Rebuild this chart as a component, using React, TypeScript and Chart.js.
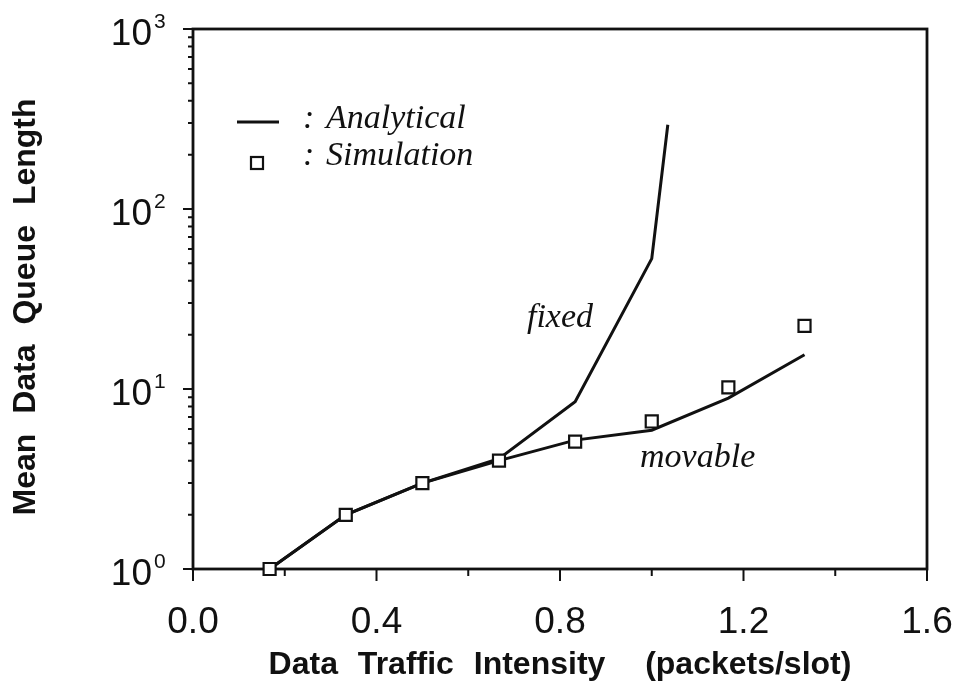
import { useEffect, useRef } from 'react';
import { Chart, registerables } from 'chart.js';

Chart.register(...registerables);

// ---- data ----
const simX = [0.167, 0.333, 0.5, 0.667, 0.833, 1.0, 1.167, 1.333];
const simY = [1.0, 2.0, 3.0, 4.0, 5.1, 6.6, 10.2, 22.4];
const movableX = [0.167, 0.333, 0.5, 0.667, 0.833, 1.0, 1.167, 1.333];
const movableY = [1.0, 2.0, 3.0, 4.0, 5.2, 5.9, 8.9, 15.5];
const fixedX = [0.167, 0.333, 0.5, 0.667, 0.833, 1.0, 1.035];
const fixedY = [1.0, 2.0, 3.0, 4.1, 8.5, 53, 294];

const xMajorTicks = [0, 0.4, 0.8, 1.2, 1.6];
const xMinorTicks = [0.2, 0.6, 1.0, 1.4];
const xTickLabels = ['0.0', '0.4', '0.8', '1.2', '1.6'];
const yDecades = [0, 1, 2, 3];
const yTickBase = '10';
const xTitle = 'Data Traffic Intensity  (packets/slot)';
const yTitle = 'Mean Data Queue Length';
const legendLabels = ['Analytical', 'Simulation'];
const curveLabels = ['fixed', 'movable'];
const curveLabelX = [0.8, 1.1];
const curveLabelY = [22, 3.7];

const INK = '#111';
const SANS = '"Liberation Sans", Arial, Helvetica, sans-serif';
const SCRIPT = '"Liberation Serif", "Times New Roman", serif';

const decor = {
  id: 'decor',
  beforeDatasetsDraw(chart: any) {
    const { ctx, chartArea: a } = chart;
    const xs = chart.scales.x;
    const ys = chart.scales.y;
    ctx.save();
    ctx.strokeStyle = INK;
    ctx.lineWidth = 2.8;
    ctx.strokeRect(a.left, a.top, a.right - a.left, a.bottom - a.top);
    ctx.lineWidth = 2;
    ctx.beginPath();
    xMajorTicks.forEach((v) => {
      const px = xs.getPixelForValue(v);
      ctx.moveTo(px, a.bottom);
      ctx.lineTo(px, a.bottom + 12);
    });
    xMinorTicks.forEach((v) => {
      const px = xs.getPixelForValue(v);
      ctx.moveTo(px, a.bottom);
      ctx.lineTo(px, a.bottom + 7);
    });
    yDecades.forEach((d) => {
      const py = ys.getPixelForValue(Math.pow(10, d));
      ctx.moveTo(a.left - 10, py);
      ctx.lineTo(a.left, py);
      if (d < 3) {
        for (let k = 2; k <= 9; k++) {
          const p = ys.getPixelForValue(k * Math.pow(10, d));
          ctx.moveTo(a.left - 5, p);
          ctx.lineTo(a.left, p);
        }
      }
    });
    ctx.stroke();
    ctx.restore();
  },
  afterDatasetsDraw(chart: any) {
    const { ctx, chartArea: a } = chart;
    const xs = chart.scales.x;
    const ys = chart.scales.y;
    ctx.save();
    ctx.fillStyle = INK;
    ctx.strokeStyle = INK;

    // y tick labels 10^k
    yDecades.forEach((d) => {
      const py = ys.getPixelForValue(Math.pow(10, d));
      ctx.font = `37px ${SANS}`;
      ctx.textAlign = 'right';
      ctx.textBaseline = 'alphabetic';
      ctx.fillText(yTickBase, a.left - 41, py + 16);
      ctx.font = `21px ${SANS}`;
      ctx.textAlign = 'left';
      ctx.fillText(String(d), a.left - 39, py - 1);
    });

    // x tick labels
    ctx.font = `37px ${SANS}`;
    ctx.textAlign = 'center';
    ctx.textBaseline = 'alphabetic';
    xMajorTicks.forEach((v, i) => {
      ctx.fillText(xTickLabels[i], xs.getPixelForValue(v), a.bottom + 64);
    });

    // axis titles
    ctx.font = `bold 32px ${SANS}`;
    (ctx as any).wordSpacing = '11px';
    ctx.textAlign = 'center';
    ctx.fillText(xTitle, (a.left + a.right) / 2, a.bottom + 105);
    ctx.save();
    ctx.translate(35, (a.top + a.bottom) / 2 + 8);
    ctx.rotate(-Math.PI / 2);
    ctx.fillText(yTitle, 0, 0);
    ctx.restore();
    (ctx as any).wordSpacing = '0px';

    // curve labels
    ctx.font = `italic 34px ${SCRIPT}`;
    ctx.textAlign = 'center';
    curveLabels.forEach((t, i) => {
      ctx.fillText(t, xs.getPixelForValue(curveLabelX[i]), ys.getPixelForValue(curveLabelY[i]));
    });

    // legend
    const lx = a.left;
    const ly = a.top;
    ctx.lineWidth = 2.8;
    ctx.beginPath();
    ctx.moveTo(lx + 44, ly + 93);
    ctx.lineTo(lx + 86, ly + 93);
    ctx.stroke();
    ctx.lineWidth = 2.2;
    ctx.strokeRect(lx + 58, ly + 128, 12, 12);
    ctx.textAlign = 'left';
    ctx.font = `italic 34px ${SCRIPT}`;
    ctx.fillText(':', lx + 110, ly + 99);
    ctx.fillText(':', lx + 110, ly + 136);
    ctx.fillText(legendLabels[0], lx + 133, ly + 99);
    ctx.fillText(legendLabels[1], lx + 133, ly + 136);
    ctx.restore();
  },
};

export default function App() {
  const ref = useRef<HTMLCanvasElement | null>(null);
  useEffect(() => {
    if (!ref.current) return;
    const line = (xs: number[], ys: number[]) => xs.map((x, i) => ({ x, y: ys[i] }));
    const chart = new Chart(ref.current, {
      type: 'line',
      data: {
        datasets: [
          {
            label: 'Simulation',
            data: line(simX, simY),
            showLine: false,
            pointStyle: 'rect',
            pointRadius: 8.5,
            pointBorderWidth: 2.2,
            pointBackgroundColor: '#fff',
            pointBorderColor: INK,
            clip: false,
          } as any,
          {
            label: 'Analytical (movable)',
            data: line(movableX, movableY),
            borderColor: INK,
            borderWidth: 3,
            pointRadius: 0,
            tension: 0,
            clip: false,
          },
          {
            label: 'Analytical (fixed)',
            data: line(fixedX, fixedY),
            borderColor: INK,
            borderWidth: 3,
            pointRadius: 0,
            tension: 0,
            clip: false,
          },
        ],
      },
      options: {
        responsive: false,
        animation: false,
        events: [],
        layout: { padding: { left: 193, top: 29, right: 29, bottom: 116 } },
        scales: {
          x: { type: 'linear', min: 0, max: 1.6, display: false },
          y: { type: 'logarithmic', min: 1, max: 1000, display: false },
        },
        plugins: { legend: { display: false }, tooltip: { enabled: false } },
      },
      plugins: [decor],
    });
    return () => chart.destroy();
  }, []);
  return (
    <canvas
      ref={ref}
      width={956}
      height={685}
      style={{ position: 'fixed', left: 0, top: 0, background: '#fff' }}
    />
  );
}
